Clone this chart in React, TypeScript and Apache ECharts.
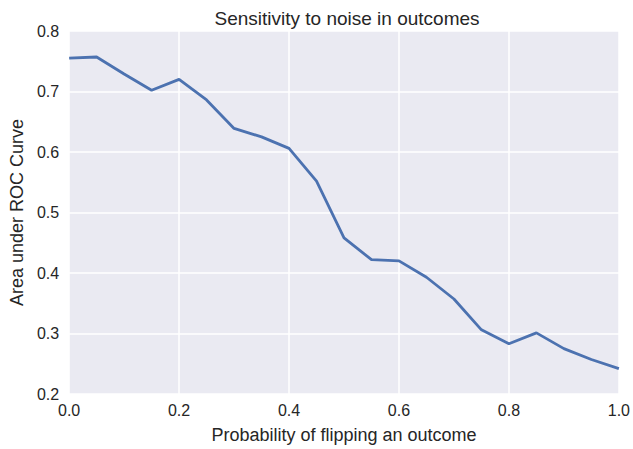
import React, { useEffect, useRef } from "react";
import * as echarts from "echarts";

const xValues = [0, 0.05, 0.1, 0.15, 0.2, 0.25, 0.3, 0.35, 0.4, 0.45, 0.5, 0.55, 0.6, 0.65, 0.7, 0.75, 0.8, 0.85, 0.9, 0.95, 1.0];
const aucValues = [0.755, 0.757, 0.729, 0.702, 0.720, 0.686, 0.639, 0.625, 0.606, 0.552, 0.458, 0.422, 0.420, 0.393, 0.357, 0.306, 0.283, 0.301, 0.275, 0.257, 0.242];

export default function App() {
  const ref = useRef<HTMLDivElement>(null);
  useEffect(() => {
    if (!ref.current) return;
    const chart = echarts.init(ref.current, undefined, { renderer: "svg" });
    const font = "'Liberation Sans', Arial, sans-serif";
    chart.setOption({
      animation: false,
      backgroundColor: "#ffffff",
      title: {
        text: "Sensitivity to noise in outcomes",
        left: 342,
        textAlign: "center",
        top: 4,
        textStyle: { fontFamily: font, fontSize: 19, fontWeight: "normal", color: "#262626" },
      },
      grid: { left: 69, right: 13, top: 31, bottom: 52, show: true, backgroundColor: "#EAEAF2", borderWidth: 0 },
      xAxis: {
        type: "value",
        min: 0,
        max: 1,
        interval: 0.2,
        name: "Probability of flipping an outcome",
        nameLocation: "middle",
        nameGap: 32,
        nameTextStyle: { fontFamily: font, fontSize: 18, color: "#262626" },
        axisLine: { show: false },
        axisTick: { show: false },
        axisLabel: { fontFamily: font, fontSize: 16, color: "#262626", margin: 8, formatter: (v: number) => v.toFixed(1) },
        splitLine: { show: true, lineStyle: { color: "#ffffff", width: 1.5 } },
      },
      yAxis: {
        type: "value",
        min: 0.2,
        max: 0.8,
        interval: 0.1,
        name: "Area under ROC Curve",
        nameLocation: "middle",
        nameGap: 40,
        nameTextStyle: { fontFamily: font, fontSize: 18, color: "#262626" },
        axisLine: { show: false },
        axisTick: { show: false },
        axisLabel: { fontFamily: font, fontSize: 16, color: "#262626", margin: 10, formatter: (v: number) => v.toFixed(1) },
        splitLine: { show: true, lineStyle: { color: "#ffffff", width: 1.5 } },
      },
      series: [
        {
          type: "line",
          data: xValues.map((x, i) => [x, aucValues[i]]),
          showSymbol: false,
          lineStyle: { color: "#4C72B0", width: 2.8 },
          itemStyle: { color: "#4C72B0" },
        },
      ],
    });
    return () => chart.dispose();
  }, []);
  return <div ref={ref} style={{ width: 633, height: 449, position: "absolute", left: 0, top: 0 }} />;
}
